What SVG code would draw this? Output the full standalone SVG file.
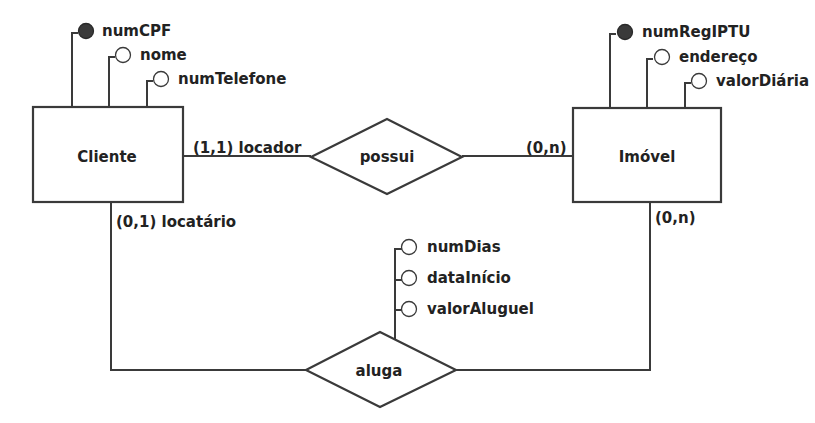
<svg xmlns="http://www.w3.org/2000/svg" width="815" height="423" viewBox="0 0 815 423">
<style>
text{font-family:"DejaVu Sans","Verdana",sans-serif;font-weight:bold;font-size:15px;fill:#222}
.c{text-anchor:middle}
.box{fill:#fff;stroke:#3a3a3a;stroke-width:2.2}
.ln{fill:none;stroke:#3a3a3a;stroke-width:2}
.at{fill:#fff;stroke:#3a3a3a;stroke-width:1.3}
.key{fill:#3a3a3a;stroke:#2a2a2a;stroke-width:1.3}
</style>
<rect width="815" height="423" fill="#fff"/>
<g id="connectors">
<polyline class="ln" points="183,156 311,156"/>
<polyline class="ln" points="462,156 573,156"/>
<polyline class="ln" points="111,202 111,370 306,370"/>
<polyline class="ln" points="456,370 650,370 650,202"/>
</g>
<g id="cliente">
<polyline class="ln" points="72,107 72,33 78,33"/>
<circle class="key" cx="86" cy="31" r="7.5"/>
<text x="102" y="36">numCPF</text>
<polyline class="ln" points="109,107 109,57 115,57"/>
<circle class="at" cx="123" cy="55" r="7.5"/>
<text x="140" y="60">nome</text>
<polyline class="ln" points="147,107 147,81 153,81"/>
<circle class="at" cx="161" cy="79" r="7.5"/>
<text x="178" y="84">numTelefone</text>
<rect class="box" x="33" y="107" width="150" height="95"/>
<text class="c" x="107" y="162">Cliente</text>
</g>
<g id="imovel">
<polyline class="ln" points="610,108 610,34 616,34"/>
<circle class="key" cx="625" cy="32" r="7.5"/>
<text x="642" y="37">numRegIPTU</text>
<polyline class="ln" points="647,108 647,59 653,59"/>
<circle class="at" cx="662" cy="57" r="7.5"/>
<text x="679" y="62">endereço</text>
<polyline class="ln" points="685,108 685,83 691,83"/>
<circle class="at" cx="699" cy="81" r="7.5"/>
<text x="716" y="86">valorDiária</text>
<rect class="box" x="573" y="108" width="148" height="94"/>
<text class="c" x="647" y="162">Imóvel</text>
</g>
<g id="possui">
<polygon class="box" points="311,157 387,119 462,157 387,194"/>
<text class="c" x="387" y="162">possui</text>
</g>
<g id="aluga">
<polyline class="ln" points="402,249 395,249 395,340"/>
<polyline class="ln" points="395,280 402,280"/>
<polyline class="ln" points="395,310 402,310"/>
<circle class="at" cx="409" cy="247" r="7.5"/>
<text x="427" y="252">numDias</text>
<circle class="at" cx="409" cy="278" r="7.5"/>
<text x="427" y="283">dataInício</text>
<circle class="at" cx="409" cy="309" r="7.5"/>
<text x="427" y="314">valorAluguel</text>
<polygon class="box" points="306,370 380,332 456,370 380,407"/>
<text class="c" x="379" y="376">aluga</text>
</g>
<g id="labels">
<text x="193" y="153">(1,1) locador</text>
<text x="526" y="153">(0,n)</text>
<text x="116" y="227">(0,1) locatário</text>
<text x="655" y="223">(0,n)</text>
</g>
</svg>
